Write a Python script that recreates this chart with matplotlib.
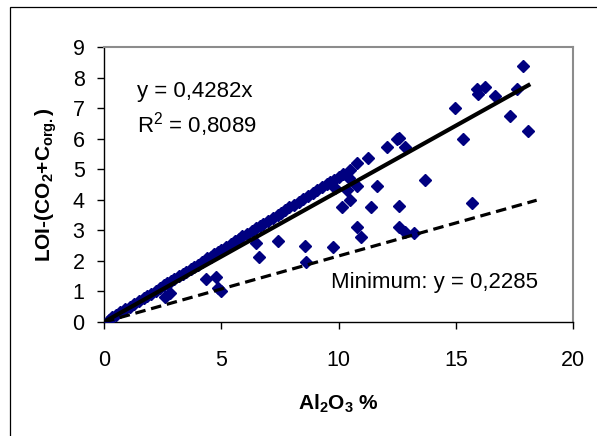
import matplotlib
matplotlib.use("Agg")
import matplotlib.pyplot as plt
from matplotlib.patches import Rectangle

plt.rcParams['font.family'] = ['Liberation Sans', 'DejaVu Sans']
plt.rcParams['mathtext.fontset'] = 'custom'
plt.rcParams['mathtext.rm'] = 'Liberation Sans'
plt.rcParams['mathtext.bf'] = 'Liberation Sans:bold'
plt.rcParams['mathtext.it'] = 'Liberation Sans:italic'

# Main trend band samples (Al2O3 %, LOI-(CO2+Corg.))
band_x = [0.2, 0.35, 0.5, 0.7, 0.9, 1.1, 1.3, 1.5, 1.7, 1.85, 2.0, 2.2, 2.4, 2.55,
          2.7, 2.85, 3.0, 3.2, 3.35, 3.5, 3.7, 3.85, 4.0, 4.2, 4.4, 4.55, 4.7, 4.85,
          5.0, 5.2, 5.4, 5.6, 5.75, 5.9, 6.1, 6.3, 6.5, 6.65, 6.8, 7.0, 7.2, 7.4,
          7.55, 7.7, 7.9, 8.1, 8.3, 8.5, 8.7, 8.9, 9.1, 9.3, 9.5, 9.65, 9.8, 10.0,
          10.2, 10.5, 10.8, 11.25, 12.05, 12.5, 12.6, 12.85]
band_y = [0.08, 0.15, 0.22, 0.32, 0.42, 0.50, 0.60, 0.70, 0.80, 0.86, 0.93, 1.03, 1.12, 1.20,
          1.28, 1.35, 1.42, 1.51, 1.58, 1.64, 1.74, 1.80, 1.88, 1.98, 2.08, 2.14, 2.22, 2.30,
          2.37, 2.46, 2.55, 2.64, 2.72, 2.80, 2.88, 2.98, 3.08, 3.15, 3.22, 3.32, 3.41, 3.50,
          3.58, 3.66, 3.75, 3.84, 3.94, 4.03, 4.13, 4.22, 4.32, 4.42, 4.50, 4.57, 4.65, 4.74,
          4.83, 4.97, 5.20, 5.37, 5.73, 5.98, 6.02, 5.73]

# Scattered samples
scat_x = [17.87, 15.9, 16.25, 15.95, 16.67, 17.6, 17.3, 18.1, 14.97, 15.3, 13.69,
          15.7, 12.6, 11.4, 10.15, 10.5, 11.65, 10.8, 10.95, 12.6, 12.85, 13.2,
          8.57, 9.75, 8.6, 6.48, 6.62, 7.42, 4.35, 4.78, 4.88, 4.97, 2.8, 2.62,
          9.85, 10.35, 10.45, 10.8]
scat_y = [8.38, 7.62, 7.69, 7.46, 7.40, 7.62, 6.74, 6.25, 7.00, 5.99, 4.65,
          3.90, 3.80, 3.78, 3.77, 3.98, 4.45, 3.11, 2.78, 3.12, 2.96, 2.91,
          2.49, 2.46, 1.96, 2.58, 2.14, 2.66, 1.41, 1.47, 1.12, 1.03, 0.95, 0.82,
          4.38, 4.32, 4.70, 4.45]

fit_slope = 0.4282
fit_xmax = 18.1
min_slope = 0.216
min_xmax = 18.45

x_ticks = [0, 5, 10, 15, 20]
y_ticks = [0, 1, 2, 3, 4, 5, 6, 7, 8, 9]

fig = plt.figure(figsize=(5.97, 4.36), dpi=100)
fig.patch.set_facecolor('white')
fig.patches.append(Rectangle((10/597, -0.1), 1.2, 1.1 - 7/436, transform=fig.transFigure,
                             fill=False, edgecolor='black', linewidth=0.9))

ax = fig.add_axes([104/597, (436-322)/436, (573-104)/597, (322-47)/436])
all_x = band_x + scat_x
all_y = band_y + scat_y
ax.plot(all_x, all_y, linestyle='none', marker='D', markersize=6.2,
        markerfacecolor='#000080', markeredgecolor='#000080', zorder=3)
ax.plot([0, fit_xmax], [0, fit_slope * fit_xmax], color='black', linewidth=3.0, zorder=4)
ax.plot([0, min_xmax], [0, min_slope * min_xmax], color='black', linewidth=2.3,
        linestyle=(0, (3.3, 1.8)), zorder=4)

ax.set_xlim(0, 20)
ax.set_ylim(0, 9)
ax.set_xticks(x_ticks)
ax.set_yticks(y_ticks)
ax.tick_params(axis='both', direction='out', length=5, width=1, labelsize=15.5, color='black')
ax.tick_params(axis='y', pad=9)
ax.tick_params(axis='x', pad=15)
for s in ['left', 'bottom']:
    ax.spines[s].set_color('black')
    ax.spines[s].set_linewidth(1)
for s in ['top', 'right']:
    ax.spines[s].set_color('#8c8c8c')
    ax.spines[s].set_linewidth(1.5)

ax.set_xlabel('Al$_{\\mathbf{2}}$O$_{\\mathbf{3}}$ %', fontsize=15, fontweight='bold', labelpad=16)
ax.set_ylabel('LOI-(CO$_{\\mathbf{2}}$+C$_{\\mathbf{org.}}$)', fontsize=15, fontweight='bold', labelpad=10)

ax.text(1.4, 7.53, 'y = 0,4282x', fontsize=16, va='center', ha='left')
ax.text(1.4, 6.45, 'R$^{2}$ = 0,8089', fontsize=16, va='center', ha='left')
ax.text(9.68, 1.28, 'Minimum: y = 0,2285', fontsize=16, va='center', ha='left')

fig.savefig('out.png', dpi=100, facecolor='white')
